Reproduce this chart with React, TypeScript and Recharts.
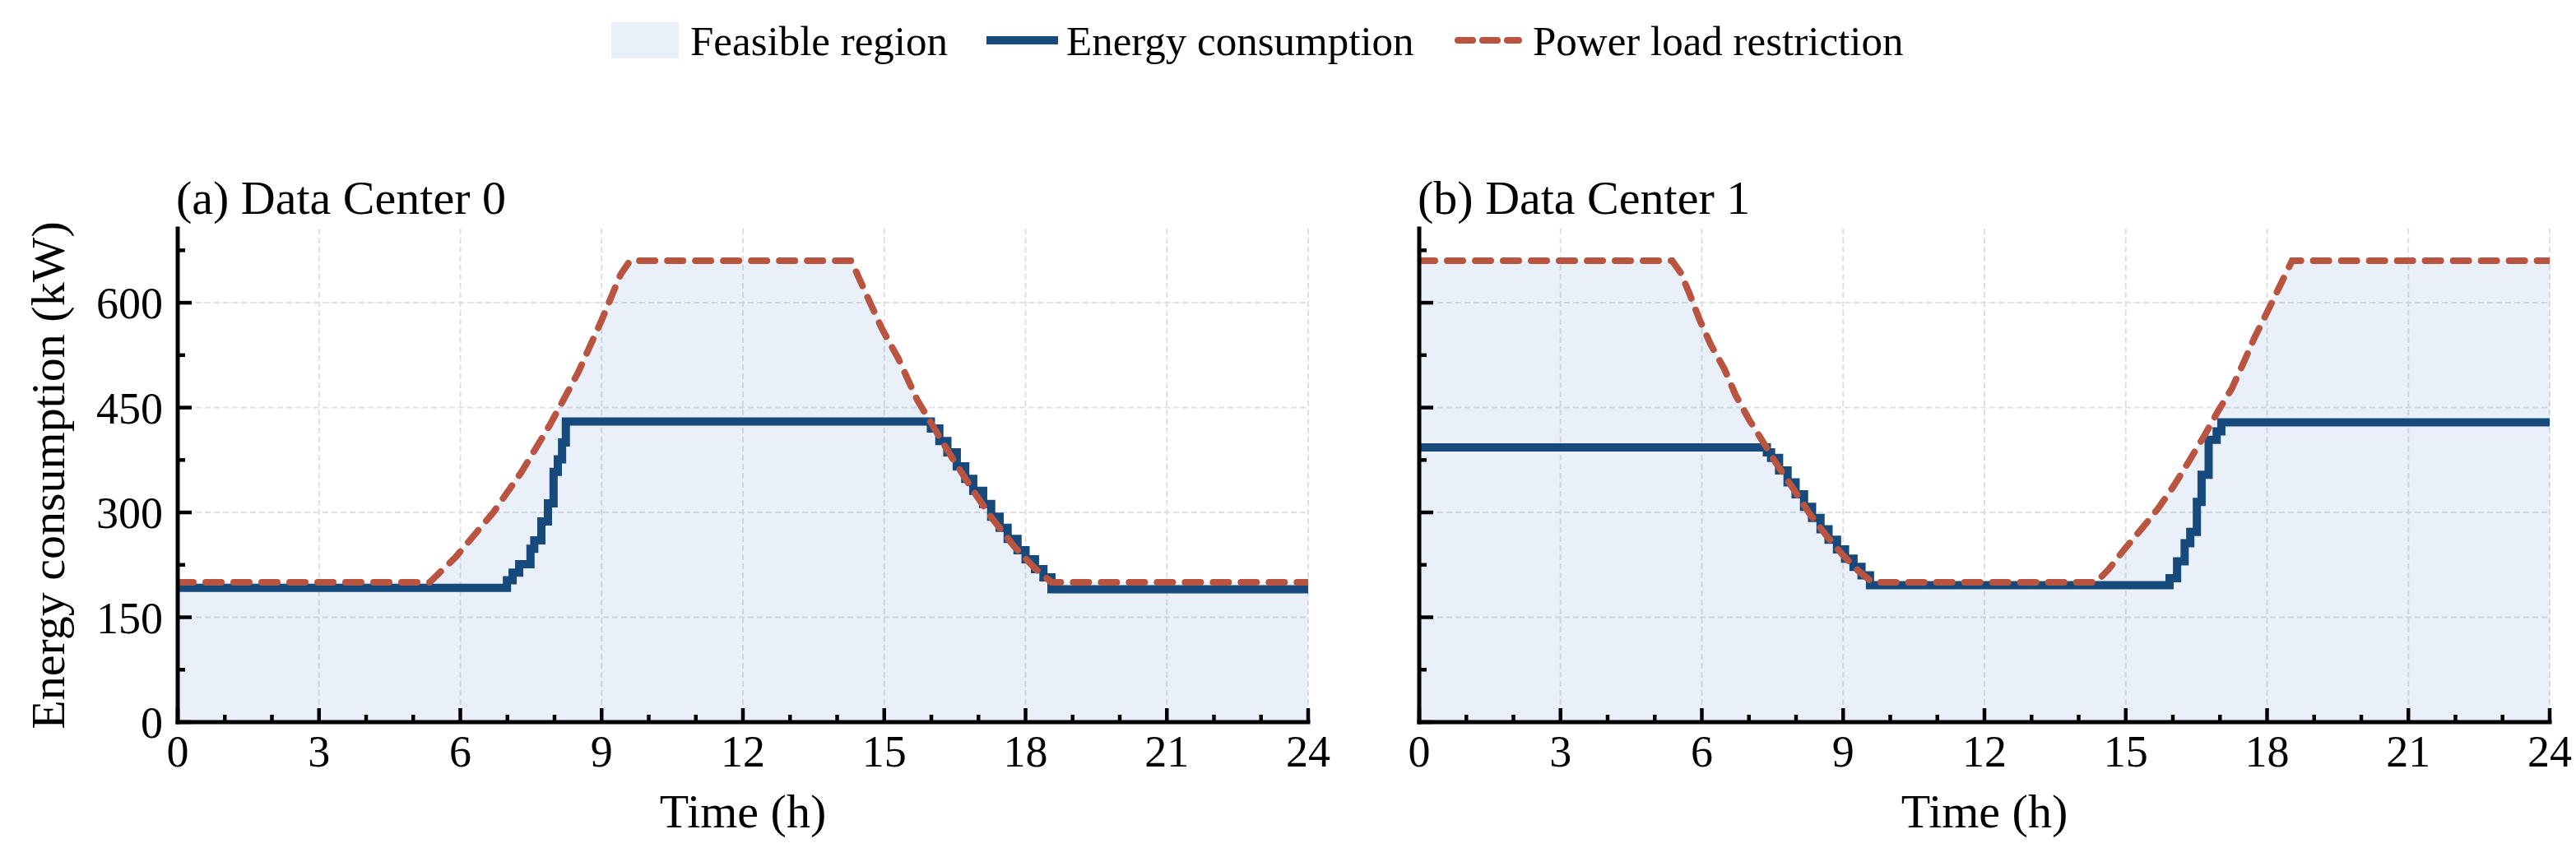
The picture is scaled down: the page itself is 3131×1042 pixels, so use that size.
import React from "react";
import { ComposedChart, Line, Area, XAxis, YAxis, CartesianGrid } from "recharts";

// axis ticks
const hourTicks = [0, 1, 2, 3, 4, 5, 6, 7, 8, 9, 10, 11, 12, 13, 14, 15, 16, 17, 18, 19, 20, 21, 22, 23, 24];
const powerTicks = [0, 75, 150, 225, 300, 375, 450, 525, 600, 675];
const hourGrid = [0, 3, 6, 9, 12, 15, 18, 21, 24];
const powerGrid = [0, 150, 300, 450, 600];

// Data Center 0
const dc0LimitHours = [0, 5.35, 5.9, 6.3, 6.7, 7.3, 7.9, 8.5, 9.0, 9.4, 9.6, 14.3, 14.6, 14.95, 15.3, 15.7, 15.95, 16.35, 16.85, 17.25, 17.75, 18.2, 18.55, 24];
const dc0LimitKW = [200, 200, 236, 268, 300, 358, 425, 500, 575, 640, 660, 660, 615, 563, 520, 461, 433, 388, 335, 295, 252, 220, 200, 200];
const dc0EnergyHours = [0, 6.99, 7.11, 7.25, 7.49, 7.57, 7.72, 7.86, 7.98, 8.07, 8.16, 8.24, 15.99, 16.17, 16.34, 16.54, 16.72, 16.89, 17.1, 17.27, 17.45, 17.62, 17.83, 18.0, 18.2, 18.38, 18.55, 24];
const dc0EnergyKW = [192, 203, 214, 226, 248, 260, 287, 313, 358, 376, 400, 430, 420, 402, 386, 366, 348, 331, 312, 294, 278, 262, 246, 233, 219, 207, 190, 190];

// Data Center 1
const dc1LimitHours = [0, 5.37, 5.55, 5.75, 5.95, 6.19, 6.48, 6.71, 7.0, 7.29, 7.58, 7.93, 8.28, 8.63, 8.98, 9.33, 9.62, 14.37, 14.63, 14.98, 15.33, 15.68, 16.03, 16.35, 16.67, 16.96, 17.25, 17.54, 17.72, 18.1, 18.53, 24];
const dc1LimitKW = [660, 660, 643, 611, 576, 540, 505, 469, 433, 402, 370, 335, 299, 268, 240, 216, 200, 200, 218, 248, 276, 305, 339, 374, 410, 445, 477, 520, 548, 600, 660, 660];
const dc1EnergyHours = [0, 7.38, 7.47, 7.64, 7.82, 7.99, 8.17, 8.34, 8.52, 8.69, 8.87, 9.04, 9.22, 9.39, 9.57, 15.93, 16.09, 16.25, 16.37, 16.51, 16.61, 16.76, 16.93, 17.03, 24];
const dc1EnergyKW = [393, 386, 378, 360, 343, 326, 308, 292, 276, 261, 247, 234, 222, 210, 196, 206, 230, 256, 272, 315, 354, 404, 416, 429, 429];

const FONT = "'Liberation Serif', 'Times New Roman', serif";
const FILL = "#2D69C3";
const ENERGY = "#174A7C";
const LIMIT = "#B85440";
const GRID = "#E0E0E0";

const zip = (hours: number[], kw: number[]) => hours.map((t, i) => ({ t, kw: kw[i] }));

const HourTick = (props: any) => {
  const { x, y, payload } = props;
  const v = payload.value;
  const major = v % 3 === 0;
  return (
    <g>
      <line x1={x} x2={x} y1={y} y2={y - (major ? 17 : 9)} stroke="#000" strokeWidth={4.5} />
      {major && (
        <text x={x} y={y + 54} textAnchor="middle" fontSize={54} fontFamily={FONT} fill="#000">
          {v}
        </text>
      )}
    </g>
  );
};

const makePowerTick = (showLabels: boolean) => (props: any) => {
  const { x, y, payload } = props;
  const v = payload.value;
  const major = v % 150 === 0;
  return (
    <g>
      <line x1={x} x2={x + (major ? 17 : 9)} y1={y} y2={y} stroke="#000" strokeWidth={4.5} />
      {showLabels && major && (
        <text x={x - 18} y={y + 19} textAnchor="end" fontSize={54} fontFamily={FONT} fill="#000">
          {v}
        </text>
      )}
    </g>
  );
};

function Panel({ title, limit, energy, left, showYLabels }: any) {
  const yMax = 706;
  return (
    <div style={{ position: "absolute", left, top: 200 }}>
      <ComposedChart width={1622} height={842} margin={{ top: 78, right: 32, left: 0, bottom: 0 }}>
        <Area
          data={limit}
          dataKey="kw"
          type="linear"
          fill={FILL}
          fillOpacity={0.1}
          stroke="none"
          isAnimationActive={false}
          activeDot={false}
        />
        <CartesianGrid
          stroke={GRID}
          strokeWidth={2}
          strokeDasharray="7 4"
          horizontalCoordinatesGenerator={({ yAxis, offset }: any) =>
            powerGrid.map((v) =>
              yAxis && typeof yAxis.scale === "function"
                ? yAxis.scale(v)
                : offset.top + offset.height * (1 - v / yMax)
            )
          }
          verticalCoordinatesGenerator={({ xAxis, offset }: any) =>
            hourGrid.map((v) =>
              xAxis && typeof xAxis.scale === "function"
                ? xAxis.scale(v)
                : offset.left + (offset.width * v) / 24
            )
          }
        />
        <XAxis
          dataKey="t"
          type="number"
          domain={[0, 24]}
          ticks={hourTicks}
          interval={0}
          height={164}
          tickSize={0}
          tickMargin={0}
          tickLine={false}
          tick={<HourTick />}
          axisLine={{ stroke: "#000", strokeWidth: 5, strokeLinecap: "square" }}
          allowDataOverflow
        />
        <YAxis
          type="number"
          domain={[0, yMax]}
          ticks={powerTicks}
          interval={0}
          width={216}
          tickSize={0}
          tickMargin={0}
          tickLine={false}
          tick={makePowerTick(showYLabels)}
          axisLine={{ stroke: "#000", strokeWidth: 5, strokeLinecap: "square" }}
          allowDataOverflow
        />
        <Line
          data={energy}
          dataKey="kw"
          type="stepAfter"
          stroke={ENERGY}
          strokeWidth={10}
          dot={false}
          activeDot={false}
          isAnimationActive={false}
        />
        <Line
          data={limit}
          dataKey="kw"
          type="linear"
          stroke={LIMIT}
          strokeWidth={8}
          strokeDasharray="19 15"
          strokeLinecap="round"
          dot={false}
          activeDot={false}
          isAnimationActive={false}
        />
        <text x={214} y={60} fontSize={58} fontFamily={FONT} fill="#000">
          {title}
        </text>
        <text x={903} y={806} textAnchor="middle" fontSize={58} fontFamily={FONT} fill="#000">
          Time (h)
        </text>
        {showYLabels && (
          <text
            x={78}
            y={378}
            transform="rotate(-90, 78, 378)"
            textAnchor="middle"
            fontSize={58}
            fontFamily={FONT}
            fill="#000"
          >
            Energy consumption (kW)
          </text>
        )}
      </ComposedChart>
    </div>
  );
}

function LegendBar() {
  return (
    <svg width={3131} height={100} style={{ position: "absolute", left: 0, top: 0 }}>
      <rect x={743} y={27} width={82} height={44} fill={FILL} fillOpacity={0.1} />
      <text x={839} y={67} fontSize={51} fontFamily={FONT} fill="#000">
        Feasible region
      </text>
      <line x1={1199} x2={1286} y1={49} y2={49} stroke={ENERGY} strokeWidth={10} />
      <text x={1296} y={67} fontSize={51} fontFamily={FONT} fill="#000">
        Energy consumption
      </text>
      <line
        x1={1772}
        x2={1846}
        y1={49}
        y2={49}
        stroke={LIMIT}
        strokeWidth={8}
        strokeDasharray="18 12"
        strokeLinecap="round"
      />
      <text x={1863} y={67} fontSize={51} fontFamily={FONT} fill="#000">
        Power load restriction
      </text>
    </svg>
  );
}

export default function App() {
  return (
    <div
      style={{
        position: "absolute",
        left: 0,
        top: 0,
        width: 3131,
        height: 1042,
        background: "#fff",
        overflow: "hidden",
        fontFamily: FONT,
      }}
    >
      <LegendBar />
      <Panel
        title="(a) Data Center 0"
        limit={zip(dc0LimitHours, dc0LimitKW)}
        energy={zip(dc0EnergyHours, dc0EnergyKW)}
        left={0}
        showYLabels
      />
      <Panel
        title="(b) Data Center 1"
        limit={zip(dc1LimitHours, dc1LimitKW)}
        energy={zip(dc1EnergyHours, dc1EnergyKW)}
        left={1509}
        showYLabels={false}
      />
    </div>
  );
}
